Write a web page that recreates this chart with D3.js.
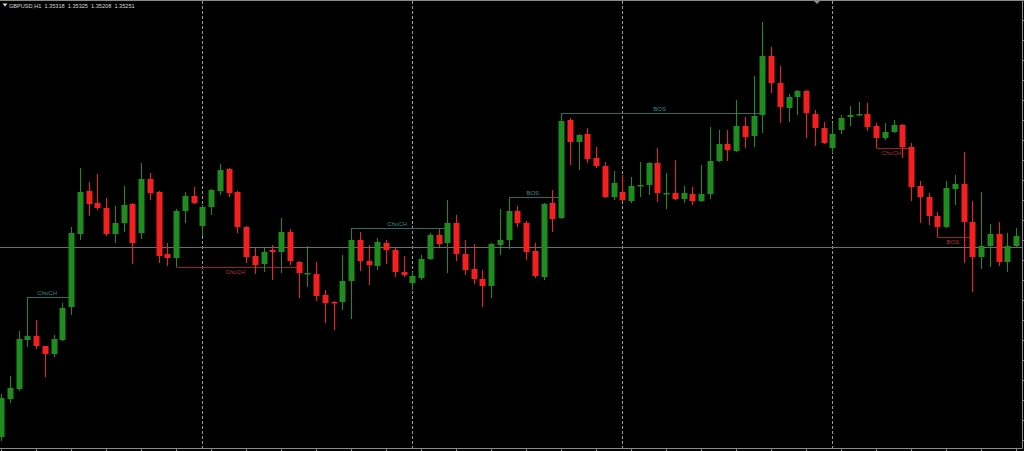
<!DOCTYPE html>
<html>
<head>
<meta charset="utf-8">
<script src="https://cdn.jsdelivr.net/npm/d3@7"></script>
<style>
  body { margin: 0; background: #000; overflow: hidden; }
  svg { display: block; }
  text { font-family: "Liberation Sans", Arial, sans-serif; }
</style>
</head>
<body>
<script>
// GBPUSD H1 candles
var open = [1.35126,1.35202,1.35222,1.35320,1.35328,1.35308,1.35292,1.35320,1.35386,1.35532,
  1.35618,1.35594,1.35584,1.35532,1.35554,1.35592,1.35534,1.35642,1.35616,1.35492,
  1.35484,1.35578,1.35608,1.35548,1.35586,1.35618,1.35662,1.35616,1.35546,1.35488,
  1.35472,1.35500,1.35496,1.35536,1.35476,1.35452,1.35452,1.35410,1.35396,1.35396,
  1.35438,1.35520,1.35478,1.35468,1.35514,1.35500,1.35456,1.35434,1.35444,1.35482,
  1.35530,1.35514,1.35554,1.35492,1.35462,1.35442,1.35428,1.35510,1.35520,1.35578,
  1.35554,1.35498,1.35446,1.35594,1.35564,1.35760,1.35716,1.35732,1.35684,1.35668,
  1.35606,1.35616,1.35598,1.35628,1.35630,1.35674,1.35612,1.35614,1.35602,1.35612,
  1.35598,1.35612,1.35678,1.35712,1.35698,1.35748,1.35728,1.35770,1.35888,1.35834,
  1.35784,1.35806,1.35818,1.35772,1.35744,1.35704,1.35740,1.35766,1.35770,1.35772,
  1.35748,1.35724,1.35736,1.35750,1.35706,1.35628,1.35606,1.35568,1.35546,1.35622,
  1.35632,1.35556,1.35486,1.35508,1.35532,1.35476,1.35508];
var high = [1.35212,1.35248,1.35338,1.35406,1.35360,1.35308,1.35330,1.35394,1.35546,1.35664,
  1.35636,1.35652,1.35604,1.35588,1.35628,1.35594,1.35674,1.35654,1.35618,1.35514,
  1.35582,1.35616,1.35626,1.35590,1.35622,1.35672,1.35664,1.35618,1.35548,1.35504,
  1.35504,1.35510,1.35564,1.35542,1.35478,1.35508,1.35476,1.35420,1.35398,1.35490,
  1.35544,1.35536,1.35510,1.35524,1.35520,1.35504,1.35488,1.35456,1.35490,1.35534,
  1.35542,1.35600,1.35570,1.35520,1.35512,1.35460,1.35514,1.35582,1.35606,1.35588,
  1.35558,1.35514,1.35594,1.35620,1.35774,1.35764,1.35732,1.35744,1.35706,1.35676,
  1.35658,1.35650,1.35646,1.35676,1.35676,1.35704,1.35654,1.35680,1.35628,1.35626,
  1.35670,1.35746,1.35740,1.35740,1.35800,1.35766,1.35848,1.35956,1.35906,1.35868,
  1.35812,1.35820,1.35820,1.35780,1.35756,1.35754,1.35770,1.35788,1.35796,1.35794,
  1.35754,1.35754,1.35760,1.35752,1.35714,1.35638,1.35614,1.35576,1.35638,1.35650,
  1.35696,1.35598,1.35616,1.35552,1.35556,1.35534,1.35544];
var low = [1.35118,1.35194,1.35218,1.35306,1.35302,1.35246,1.35286,1.35318,1.35370,1.35520,
  1.35568,1.35580,1.35528,1.35514,1.35536,1.35472,1.35522,1.35600,1.35474,1.35468,
  1.35466,1.35554,1.35592,1.35528,1.35570,1.35610,1.35606,1.35534,1.35474,1.35452,
  1.35456,1.35440,1.35454,1.35470,1.35404,1.35426,1.35398,1.35354,1.35340,1.35380,
  1.35362,1.35458,1.35430,1.35460,1.35472,1.35446,1.35446,1.35420,1.35440,1.35480,
  1.35506,1.35454,1.35478,1.35450,1.35432,1.35386,1.35404,1.35490,1.35502,1.35546,
  1.35480,1.35444,1.35440,1.35536,1.35562,1.35670,1.35660,1.35674,1.35664,1.35604,
  1.35600,1.35598,1.35594,1.35606,1.35610,1.35596,1.35582,1.35600,1.35594,1.35590,
  1.35596,1.35602,1.35676,1.35678,1.35696,1.35704,1.35706,1.35734,1.35814,1.35754,
  1.35756,1.35770,1.35724,1.35708,1.35712,1.35694,1.35732,1.35748,1.35768,1.35738,
  1.35704,1.35720,1.35734,1.35684,1.35598,1.35554,1.35550,1.35526,1.35544,1.35590,
  1.35474,1.35416,1.35462,1.35466,1.35468,1.35456,1.35504];
var close = [1.35204,1.35224,1.35322,1.35328,1.35308,1.35292,1.35322,1.35384,1.35534,1.35616,
  1.35592,1.35584,1.35532,1.35554,1.35590,1.35514,1.35642,1.35614,1.35488,1.35484,
  1.35578,1.35608,1.35594,1.35586,1.35620,1.35660,1.35614,1.35546,1.35486,1.35470,
  1.35496,1.35496,1.35536,1.35478,1.35454,1.35454,1.35408,1.35394,1.35394,1.35438,
  1.35520,1.35478,1.35470,1.35516,1.35500,1.35456,1.35450,1.35448,1.35482,1.35530,
  1.35512,1.35554,1.35492,1.35460,1.35442,1.35428,1.35512,1.35520,1.35578,1.35554,
  1.35496,1.35448,1.35592,1.35562,1.35758,1.35716,1.35730,1.35682,1.35668,1.35606,
  1.35634,1.35600,1.35628,1.35630,1.35674,1.35614,1.35614,1.35602,1.35614,1.35598,
  1.35612,1.35678,1.35712,1.35700,1.35748,1.35726,1.35768,1.35888,1.35834,1.35786,
  1.35806,1.35818,1.35774,1.35744,1.35714,1.35732,1.35764,1.35770,1.35772,1.35746,
  1.35724,1.35736,1.35750,1.35706,1.35626,1.35606,1.35568,1.35546,1.35624,1.35632,
  1.35556,1.35486,1.35508,1.35532,1.35476,1.35508,1.35528];

// day separators (bar index of 00:00)
var daySeparators = [23, 47, 71, 95];

// market structure marks: swing bar, break bar, level
var structLabel = ["ChoCH", "ChoCH", "ChoCH", "BOS", "BOS", "ChoCH", "BOS"];
var structFrom  = [3, 20, 40, 58, 64, 100, 107];
var structTo    = [8, 34, 51, 64, 87, 104, 111];
var structLevel = [1.35406, 1.35466, 1.35544, 1.35606, 1.35774, 1.35704, 1.35526];
var structBull  = [true, false, true, true, true, false, false];

var bidPrice = 1.35506;
var header = "GBPUSD,H1  1.35318  1.35325  1.35208  1.35251";

var width = 1024, height = 451;
var plotRight = 1022.5, plotBottom = 448.5;

var svg = d3.select("body").append("svg")
    .attr("width", width)
    .attr("height", height);

svg.append("rect").attr("width", width).attr("height", height).attr("fill", "#000");

var x = d3.scaleLinear().domain([0, open.length - 1]).range([1.05, 1016.05]);
var y = d3.scaleLinear().domain([1.36000, 1.35098]).range([0, 451]);

var upColor = "#1f8c1f", downColor = "#f41f1f";
var bullLine = "#2d6b66", bearLine = "#9a2222";

// day separators
svg.selectAll(".sep")
    .data(daySeparators)
    .enter().append("line")
    .attr("class", "sep")
    .attr("x1", function(d) { return Math.round(x(d)) + 0.5; })
    .attr("x2", function(d) { return Math.round(x(d)) + 0.5; })
    .attr("y1", 1)
    .attr("y2", plotBottom)
    .attr("stroke", "#9a9a9a")
    .attr("stroke-width", 1)
    .attr("stroke-dasharray", "3,2");

// bid line
svg.append("line")
    .attr("x1", 0).attr("x2", plotRight)
    .attr("y1", Math.round(y(bidPrice)) + 0.5)
    .attr("y2", Math.round(y(bidPrice)) + 0.5)
    .attr("stroke", "#6e6e6e")
    .attr("stroke-width", 1);

// structure lines
var structs = structLabel.map(function(l, i) {
    return { label: l, from: structFrom[i], to: structTo[i], level: structLevel[i], bull: structBull[i] };
});

var sg = svg.selectAll(".struct")
    .data(structs)
    .enter().append("g")
    .attr("class", "struct");

sg.append("line")
    .attr("x1", function(d) { return Math.round(x(d.from)) + 0.5; })
    .attr("x2", function(d) { return Math.round(x(d.to)) + 0.5; })
    .attr("y1", function(d) { return Math.round(y(d.level)) + 0.5; })
    .attr("y2", function(d) { return Math.round(y(d.level)) + 0.5; })
    .attr("stroke", function(d) { return d.bull ? bullLine : bearLine; })
    .attr("stroke-width", 1);

sg.append("text")
    .text(function(d) { return d.label; })
    .attr("x", function(d) { return (x(d.from) + x(d.to)) / 2 - 2; })
    .attr("y", function(d) { return y(d.level) + (d.bull ? -2 : 6.5); })
    .attr("text-anchor", "middle")
    .attr("font-size", "6px")
    .attr("fill", function(d) { return d.bull ? "#3f8a84" : "#b83030"; });

// candles
var candles = svg.selectAll(".candle")
    .data(open.map(function(o, i) { return { i: i, o: o, h: high[i], l: low[i], c: close[i] }; }))
    .enter().append("g")
    .attr("class", "candle");

candles.append("line")
    .attr("x1", function(d) { return Math.round(x(d.i)) + 0.5; })
    .attr("x2", function(d) { return Math.round(x(d.i)) + 0.5; })
    .attr("y1", function(d) { return y(d.h); })
    .attr("y2", function(d) { return y(d.l); })
    .attr("stroke", function(d) { return d.c >= d.o ? upColor : downColor; })
    .attr("stroke-width", 1);

candles.append("rect")
    .attr("x", function(d) { return Math.round(x(d.i)) - 2.5; })
    .attr("width", 6)
    .attr("y", function(d) { return y(Math.max(d.o, d.c)); })
    .attr("height", function(d) { return Math.max(1.5, Math.abs(y(d.o) - y(d.c))); })
    .attr("fill", function(d) { return d.c >= d.o ? upColor : downColor; });

// frame
svg.append("line").attr("x1", 0).attr("x2", plotRight).attr("y1", 0.5).attr("y2", 0.5)
    .attr("stroke", "#8a8a8a");
svg.append("line").attr("x1", plotRight).attr("x2", plotRight).attr("y1", 0).attr("y2", plotBottom)
    .attr("stroke", "#8a8a8a");

// time axis ticks
var tickIdx = d3.range(0, open.length, 4);
svg.append("g")
    .attr("transform", "translate(0," + plotBottom + ")")
    .call(d3.axisBottom(x).tickValues(tickIdx).tickSize(3).tickFormat(""))
    .call(function(g) {
        g.select(".domain").attr("d", "M0,0H" + plotRight);
        g.selectAll("path, line").attr("stroke", "#8a8a8a");
    });

// price axis ticks
svg.append("g")
    .attr("transform", "translate(" + plotRight + ",0)")
    .call(d3.axisRight(y).tickValues(d3.range(1.3512, 1.3600, 0.0004)).tickSize(2).tickFormat(""))
    .call(function(g) {
        g.select(".domain").remove();
        g.selectAll("line").attr("stroke", "#8a8a8a");
    });

// shift marker
svg.append("path")
    .attr("d", "M814,1 L820,1 L817,4 Z")
    .attr("fill", "#8a8a8a");

// header
svg.append("path")
    .attr("d", "M2.5,3.5 L7.5,3.5 L5,6.5 Z")
    .attr("fill", "#dcdcdc");
svg.append("text")
    .text(header)
    .attr("x", 9)
    .attr("y", 7.5)
    .attr("font-size", "5.6px")
    .attr("fill", "#d8d8d8")
    .attr("xml:space", "preserve")
    .style("white-space", "pre");
</script>
</body>
</html>
